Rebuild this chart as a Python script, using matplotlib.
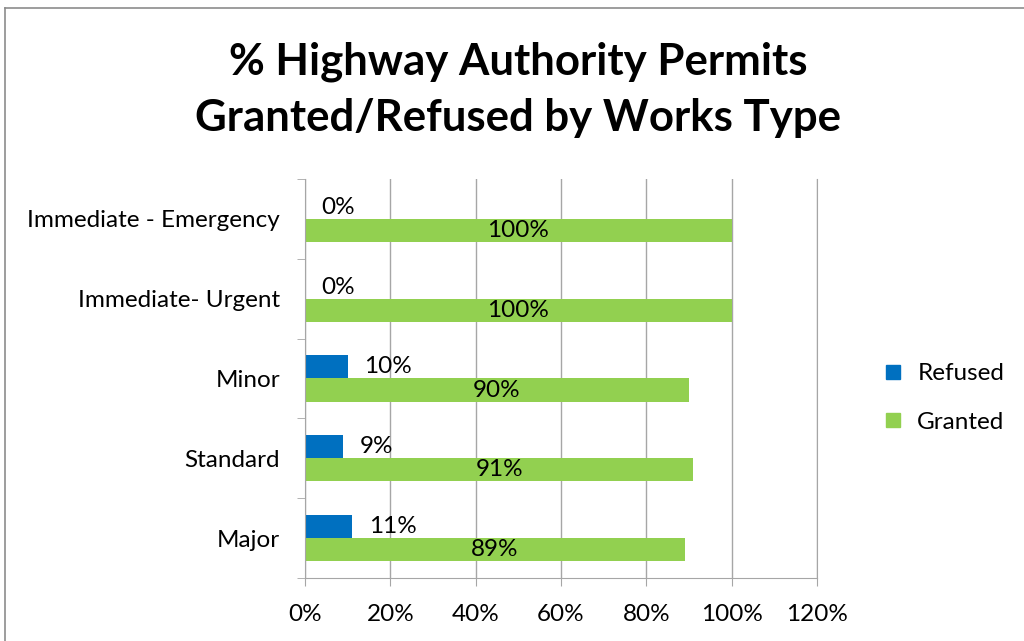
import matplotlib
matplotlib.use('Agg')
import matplotlib.pyplot as plt
from matplotlib.lines import Line2D
import numpy as np

categories = ['Major', 'Standard', 'Minor', 'Immediate- Urgent', 'Immediate - Emergency']
refused = [0.11, 0.09, 0.10, 0.0, 0.0]
granted = [0.89, 0.91, 0.90, 1.0, 1.0]
xticks = [0, 0.2, 0.4, 0.6, 0.8, 1.0, 1.2]

plt.rcParams['font.family'] = ['Lato', 'DejaVu Sans']
fs = 17.5

fig = plt.figure(figsize=(10.24, 6.41), dpi=100)
ax = fig.add_axes([305/1024, 1 - 578/641, 512/1024, 399/641])

y = np.arange(len(categories))
h = 0.29
ax.barh(y + h/2, refused, height=h, color='#0070C0', label='Refused')
ax.barh(y - h/2, granted, height=h, color='#92D050', label='Granted')

# data labels
for i in range(len(categories)):
    ax.annotate(f'{refused[i]*100:.0f}%', (refused[i], y[i] + h/2),
                xytext=(12, 0), textcoords='offset points', va='center', ha='left',
                fontsize=fs, color='black')
    ax.text(granted[i] / 2, y[i] - h/2, f'{granted[i]*100:.0f}%',
            va='center', ha='center', fontsize=fs, color='black')

ax.set_xlim(0, 1.2)
ax.set_ylim(-0.5, len(categories) - 0.5)
ax.set_xticks(xticks)
ax.set_xticklabels([f'{t*100:.0f}%' for t in xticks], fontsize=fs)
ax.set_yticks(y)
ax.set_yticklabels(categories, fontsize=fs)
ax.set_yticks(np.arange(len(categories) + 1) - 0.5, minor=True)
ax.tick_params(axis='y', which='major', length=0, pad=18)
ax.tick_params(axis='y', which='minor', length=6, color='#A6A6A6', direction='out')
ax.tick_params(axis='x', length=6, color='#A6A6A6', direction='out', pad=13)

ax.grid(axis='x', color='#A6A6A6', linewidth=1)
ax.set_axisbelow(True)
ax.spines['top'].set_visible(False)
for s in ['left', 'bottom', 'right']:
    ax.spines[s].set_color('#A6A6A6')

fig.text(518/1024, 1 - 90/641, '% Highway Authority Permits\nGranted/Refused by Works Type',
         ha='center', va='center', fontsize=31.5, fontweight='bold', linespacing=1.48)

handles = [Line2D([], [], marker='s', linestyle='', markersize=10, color='#0070C0'),
           Line2D([], [], marker='s', linestyle='', markersize=10, color='#92D050')]
fig.legend(handles, ['Refused', 'Granted'], loc='center left',
           bbox_to_anchor=(859/1024, 1 - 398/641), frameon=False, fontsize=fs,
           labelspacing=1.15, handletextpad=0.5, handlelength=1.0)

# chart border (cropped at right and bottom)
fig.add_artist(Line2D([4.5/1024, 1], [1 - 8/641, 1 - 8/641], color='#8C8C8C', linewidth=1.2))
fig.add_artist(Line2D([4.5/1024, 4.5/1024], [0, 1 - 8/641], color='#8C8C8C', linewidth=1.2))

fig.savefig('out.png', dpi=100)
